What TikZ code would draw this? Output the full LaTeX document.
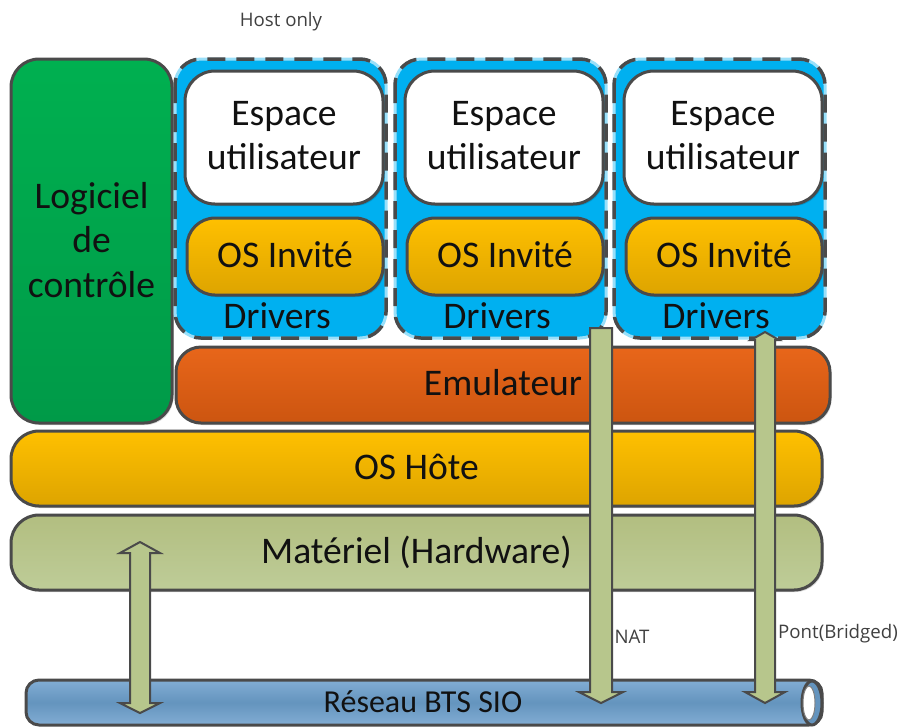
\documentclass[tikz,border=0pt]{standalone}
\usepackage{fontspec}
\setmainfont{Carlito}
\newfontfamily\smallfont{Open Sans}
\usetikzlibrary{shadows,calc}
\newdimen\px \px=.75pt
\definecolor{ink}{HTML}{111111}
\definecolor{edge}{HTML}{4A4A4A}
\definecolor{vmblue}{HTML}{00B0F0}
\definecolor{arrowgreen}{HTML}{B7C68C}
\definecolor{greenA}{HTML}{00B050}
\definecolor{greenB}{HTML}{009A48}
\definecolor{orangeA}{HTML}{E8661A}
\definecolor{orangeB}{HTML}{CC5510}
\definecolor{yellowA}{HTML}{FFC000}
\definecolor{yellowB}{HTML}{DDA400}
\definecolor{oliveA}{HTML}{B2BE80}
\definecolor{oliveB}{HTML}{BECC98}
\definecolor{pipeA}{HTML}{82ADD4}
\definecolor{pipeB}{HTML}{6494BE}
\tikzset{
  x=.75pt,y=-.75pt,
  layer/.style={draw=edge,line width=3\px,inner sep=0pt,outer sep=0pt,
    drop shadow={shadow xshift=1.5\px,shadow yshift=-2\px,fill=black,opacity=.15}},
  greenbox/.style={layer,rounded corners=28\px,top color=greenA,bottom color=greenB},
  orangebox/.style={layer,rounded corners=25\px,top color=orangeA,bottom color=orangeB},
  yellowbox/.style={layer,rounded corners=28\px,top color=yellowA,bottom color=yellowB},
  olivebox/.style={layer,rounded corners=28\px,top color=oliveA,bottom color=oliveB},
  whitebox/.style={layer,rounded corners=30\px,fill=white},
  vmbox/.style={inner sep=0pt,outer sep=0pt,rounded corners=26\px,fill=vmblue,draw=white!60!vmblue,line width=3\px,
    minimum width=211\px,minimum height=279\px},
  dashedge/.style={draw=edge,line width=3.5\px,rounded corners=26\px,dash pattern=on 18\px off 11\px},
  lbl/.style={inner sep=0pt,outer sep=0pt,text=ink,align=center,font=\fontsize{28.2}{33.6}\selectfont},
  smalllbl/.style={inner sep=0pt,outer sep=0pt,text=black!75,font=\smallfont\fontsize{14}{17}\selectfont},
  fat/.style={draw=edge,line width=2\px,fill=arrowgreen,line join=miter},
}
% \vmstack{name}{left x}
\newcommand\vmstack[2]{%
  \node[vmbox,anchor=north west] (#1vm) at (#2,59) {};
  \draw[dashedge] (#1vm.north west) rectangle (#1vm.south east);
  \node[whitebox,minimum width=198\px,minimum height=133\px,anchor=north west] (#1user) at ($(#2,71)+(10,0)$) {};
  \node[lbl] (#1usertext) at ($(#1user.center)+(0,-2)$) {Espace\\utilisateur};
  \node[yellowbox,minimum width=196\px,minimum height=77\px,anchor=north west] (#1os) at ($(#2,218)+(12,0)$) {};
  \node[lbl] (#1ostext) at ($(#1os.center)+(0,-2)$) {OS Invité};
  \node[lbl] (#1drv) at ($(#2,316)+(102,0)$) {Drivers};
}
\newcommand\doublearrow[6]{%
  \draw[fat] (#1) -- ++(#4,#5) -- ++(-#4+#3,0) -- ($(#2)+(#3,-#6)$) -- ++(#4-#3,0) -- (#2)
     -- ++(-#4,-#6) -- ++(#4-#3,0) -- ($(#1)+(-#3,#5)$) -- ++(#3-#4,0) -- cycle;
}
\begin{document}
\begin{tikzpicture}
\path[use as bounding box,clip] (0,0) rectangle (899,726);
\fill[white] (0,0) rectangle (899,726);

\node[smalllbl] (hostonly) at (281,22) {Host only};

\node[greenbox,minimum width=161\px,minimum height=364\px,anchor=north west] (ctrl) at (11,59) {};
\node[lbl] (ctrltext) at ($(ctrl.center)+(0,-1)$) {Logiciel\\de\\contrôle};

\vmstack{a}{175}
\vmstack{b}{395}
\vmstack{c}{614}

\node[orangebox,minimum width=654\px,minimum height=76\px,anchor=north west] (emul) at (176,347) {};
\node[lbl] (emultext) at ($(emul.center)+(0,-2)$) {Emulateur};
\node[yellowbox,minimum width=811\px,minimum height=75\px,anchor=north west] (host) at (11,431) {};
\node[lbl] (hosttext) at ($(host.center)+(0,-2)$) {OS Hôte};
\node[olivebox,minimum width=811\px,minimum height=75\px,anchor=north west] (hard) at (11,515) {};
\node[lbl] (hardtext) at (hard.center) {Matériel (Hardware)};

% network pipe
\node[draw=edge,line width=3\px,outer sep=0pt,rounded corners=13\px,minimum width=796\px,minimum height=45\px,anchor=north west,
  inner sep=0pt,top color=pipeA,bottom color=pipeA,middle color=pipeB] (net) at (26,680) {};
\node[lbl,font=\fontsize{24}{28}\selectfont] (netlabel) at (423,702) {Réseau BTS SIO};
\draw[edge,line width=3\px,fill=pipeB] (812,703) ellipse [x radius=10,y radius=22];
\draw[edge!70,line width=1\px,fill=white] (809,703) ellipse [x radius=6,y radius=17];

% connectors
\coordinate (hwTop) at (140,542);
\coordinate (hwBottom) at (140,713);
\doublearrow{hwTop}{hwBottom}{10}{20}{11}{10}

\coordinate (natTop) at (601,328);
\coordinate (natBottom) at (601,703);
\draw[fat] (natTop) ++(-11,0) -- ++(22,0) -- ($(natBottom)+(11,-11)$) -- ++(11,0) -- (natBottom) -- ++(-22,-11) -- ++(11,0) -- cycle;

\coordinate (brTop) at (765,332);
\coordinate (brBottom) at (765,703);
\draw[fat] (brTop) -- ++(14,8) -- ++(-4,0) -- ($(brBottom)+(10,-11)$) -- ++(10,0) -- (brBottom) -- ++(-20,-11) -- ++(10,0) -- ($(brTop)+(-10,8)$) -- ++(-4,0) -- cycle;

\node[smalllbl] (natlabel) at (632,637) {NAT};
\node[smalllbl] (brlabel) at (838,634) {Pont(Bridged)};
\end{tikzpicture}
\end{document}
